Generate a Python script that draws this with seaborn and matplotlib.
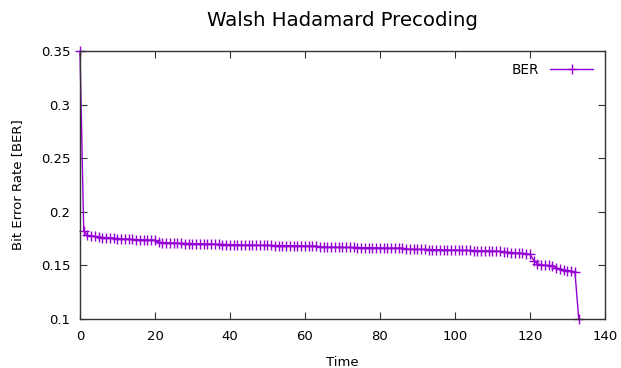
import numpy as np
import pandas as pd
import seaborn as sns
import matplotlib
matplotlib.use("Agg")
import matplotlib.pyplot as plt
from matplotlib.ticker import FormatStrFormatter, MultipleLocator

# BER per time step
ber = [
    0.35, 0.182, 0.178, 0.1775, 0.177, 0.1765, 0.176, 0.176, 0.1758, 0.1755,
    0.175, 0.1748, 0.1745, 0.1745, 0.1742, 0.174, 0.174, 0.1738, 0.1738, 0.1737,
    0.1736, 0.1715, 0.1713, 0.1712, 0.171, 0.1708, 0.1707, 0.1705, 0.1704, 0.1703,
    0.1702, 0.1701, 0.17, 0.1699, 0.1698, 0.1697, 0.1696, 0.1695, 0.1694, 0.1693,
    0.1692, 0.1691, 0.169, 0.169, 0.1689, 0.1689, 0.1688, 0.1688, 0.1687, 0.1687,
    0.1686, 0.1686, 0.1685, 0.1685, 0.1684, 0.1684, 0.1683, 0.1683, 0.1682, 0.1682,
    0.1681, 0.1681, 0.168, 0.168, 0.1672, 0.1671, 0.167, 0.167, 0.1669, 0.1669,
    0.1668, 0.1668, 0.1667, 0.1667, 0.1666, 0.1666, 0.1665, 0.1665, 0.1664, 0.1664,
    0.1663, 0.1663, 0.1662, 0.1662, 0.1661, 0.1661, 0.166, 0.1652, 0.1651, 0.165,
    0.165, 0.1649, 0.1649, 0.1648, 0.1647, 0.1646, 0.1645, 0.1645, 0.1644, 0.1644,
    0.1643, 0.1642, 0.1641, 0.164, 0.1639, 0.1638, 0.1637, 0.1636, 0.1635, 0.1634,
    0.1633, 0.1632, 0.1631, 0.1625, 0.1622, 0.162, 0.1618, 0.1615, 0.1612, 0.161,
    0.1605, 0.1545, 0.1515, 0.1505, 0.1502, 0.15, 0.1495, 0.1478, 0.1465, 0.1455,
    0.1452, 0.1448, 0.1435, 0.1,
]
time = list(range(len(ber)))

df = pd.DataFrame({"Time": time, "BER": ber})

sns.set_style("ticks")
plt.rcParams["font.family"] = ["DejaVu Sans"]
plt.rcParams["text.color"] = "black"
plt.rcParams["axes.labelcolor"] = "black"
plt.rcParams["xtick.color"] = "black"
plt.rcParams["ytick.color"] = "black"

purple = "#9400d3"

fig = plt.figure(figsize=(6.21, 3.68), dpi=100)
ax = fig.add_axes([0.1288, 0.1332, 0.8454, 0.7282])

sns.lineplot(data=df, x="Time", y="BER", ax=ax, color=purple,
             marker="+", markersize=7, markeredgewidth=1.0,
             markeredgecolor=purple, linewidth=1.0, label="BER")
for ln in ax.lines:
    ln.set_clip_on(False)

ax.set_xlim(0, 140)
ax.set_ylim(0.1, 0.35)
ax.xaxis.set_major_locator(MultipleLocator(20))
ax.yaxis.set_major_locator(MultipleLocator(0.05))
ax.yaxis.set_major_formatter(FormatStrFormatter("%g"))
ax.tick_params(direction="in", top=True, right=True, length=5, width=0.8,
               labelsize=9.5, color="#333333")
ax.tick_params(axis="x", pad=8)
ax.tick_params(axis="y", pad=7)
for s in ax.spines.values():
    s.set_linewidth(1.0)
    s.set_color("#333333")

ax.set_xlabel("Time", fontsize=9.5, labelpad=9)
ax.set_ylabel("Bit Error Rate [BER]", fontsize=9.5, labelpad=12)
ax.set_title("Walsh Hadamard Precoding", fontsize=14.2, pad=18)

leg = ax.legend(loc="upper right", frameon=False, markerfirst=False,
                fontsize=9.8, handlelength=3.2, borderaxespad=0.45)

fig.savefig("out.png", dpi=100)
